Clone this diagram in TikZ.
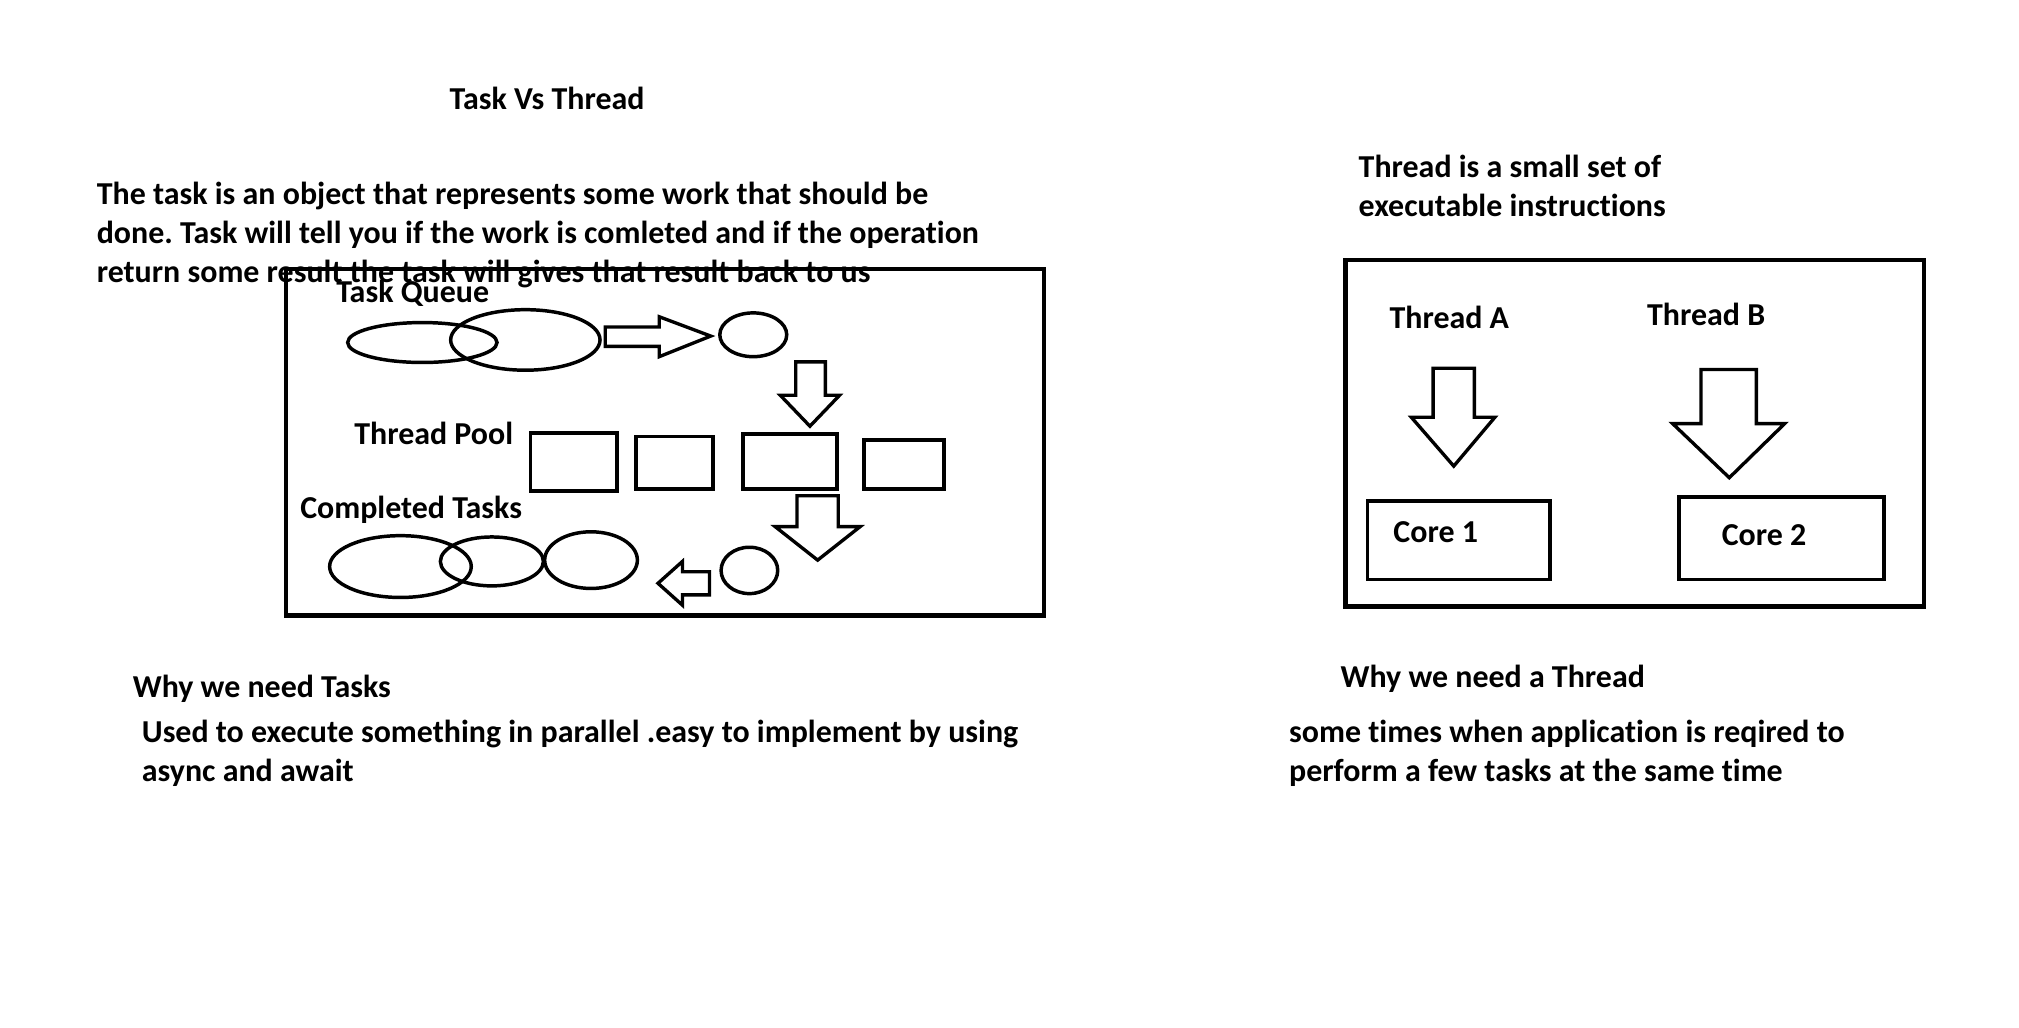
\documentclass[tikz,border=0pt]{standalone}
\usepackage{fontspec}
\setmainfont{Carlito}[Ligatures=CommonOff]
\frenchspacing
\usetikzlibrary{shapes.geometric}
\begin{document}
\begin{tikzpicture}[x=1pt,y=-1pt,
  txt/.style={font=\fontsize{24.8}{30.5}\selectfont\bfseries, inner sep=0pt, anchor=base west, align=left},
  frame/.style={draw, line width=3.3pt},
  box/.style={draw, line width=3pt, inner sep=0pt},
  blob/.style={draw, ellipse, line width=2.7pt, inner sep=0pt},
  blockarrow/.style={draw, line width=2.6pt, line join=miter}]
\useasboundingbox[fill=white] (0,0) rectangle (1568,798);

% base of a multi-line text is its last line
\node[txt] (title) at (349,85) {Task Vs Thread};
\node[txt] (taskdef) at (75,219.5) {The task is an object that represents some work that should be\\done. Task will tell you if the work is comleted and if the operation\\return some result the task will gives that result back to us};
\node[txt] (threaddef) at (1055,168) {Thread is a small set of\\executable instructions};

% task side
\draw[frame] (222,209) rectangle (811,478);
\node[txt] (queue) at (261,235) {Task Queue};
\node[blob, minimum width=116, minimum height=31] (q1) at (328,266) {};
\node[blob, minimum width=116, minimum height=47] (q2) at (408,264) {};
\draw[blockarrow] (470,254) -- (512,254) -- (512,246) -- (552,261) -- (512,277) -- (512,269) -- (470,269) -- cycle;
\node[blob, minimum width=52, minimum height=34] (next) at (585,260) {};
\draw[blockarrow] (618,281) -- (641,281) -- (641,307) -- (652,307) -- (629,331) -- (606,307) -- (618,307) -- cycle;

\node[txt] (pool) at (275,345) {Thread Pool};
\node[box, minimum width=67, minimum height=45] (w1) at (445.5,358.5) {};
\node[box, minimum width=60, minimum height=41] (w2) at (524,359.5) {};
\node[box, minimum width=73, minimum height=43] (w3) at (613.5,358.5) {};
\node[box, minimum width=62, minimum height=38] (w4) at (702,361) {};
\draw[blockarrow] (619,385) -- (651,385) -- (651,409) -- (668,409) -- (635,435) -- (602,409) -- (619,409) -- cycle;

\node[txt] (done) at (233,403) {Completed Tasks};
\node[blob, minimum width=110, minimum height=48] (c1) at (311,440) {};
\node[blob, minimum width=80, minimum height=38] (c2) at (382,436) {};
\node[blob, minimum width=72, minimum height=44] (c3) at (459,435) {};
\node[blob, minimum width=44, minimum height=36] (fin) at (582,443) {};
\draw[blockarrow] (551,444) -- (530,444) -- (530,436) -- (511,453) -- (530,470) -- (530,462) -- (551,462) -- cycle;

% thread side
\draw[frame] (1045,202) rectangle (1494,471);
\node[txt] (ta) at (1079,255) {Thread A};
\node[txt] (tb) at (1279,253) {Thread B};
\draw[blockarrow] (1113,286) -- (1145,286) -- (1145,324) -- (1161,324) -- (1129,362) -- (1096,324) -- (1113,324) -- cycle;
\draw[blockarrow] (1321,287) -- (1364,287) -- (1364,329) -- (1386,329) -- (1343,371) -- (1299,329) -- (1321,329) -- cycle;
\node[box, minimum width=142, minimum height=61] (core1) at (1133,419.5) {};
\node[box, minimum width=159, minimum height=64] (core2) at (1383.5,418) {};
\node[txt] at (1082,421) {Core 1};
\node[txt] at (1337,424) {Core 2};

% why
\node[txt] (whytask) at (103,542) {Why we need Tasks};
\node[txt] (usetask) at (110,607) {Used to execute something in parallel .easy to implement by using\\async and await};
\node[txt] (whythread) at (1041,534) {Why we need a Thread};
\node[txt] (usethread) at (1001,607) {some times when application is reqired to\\perform a few tasks at the same time};
\end{tikzpicture}
\end{document}
